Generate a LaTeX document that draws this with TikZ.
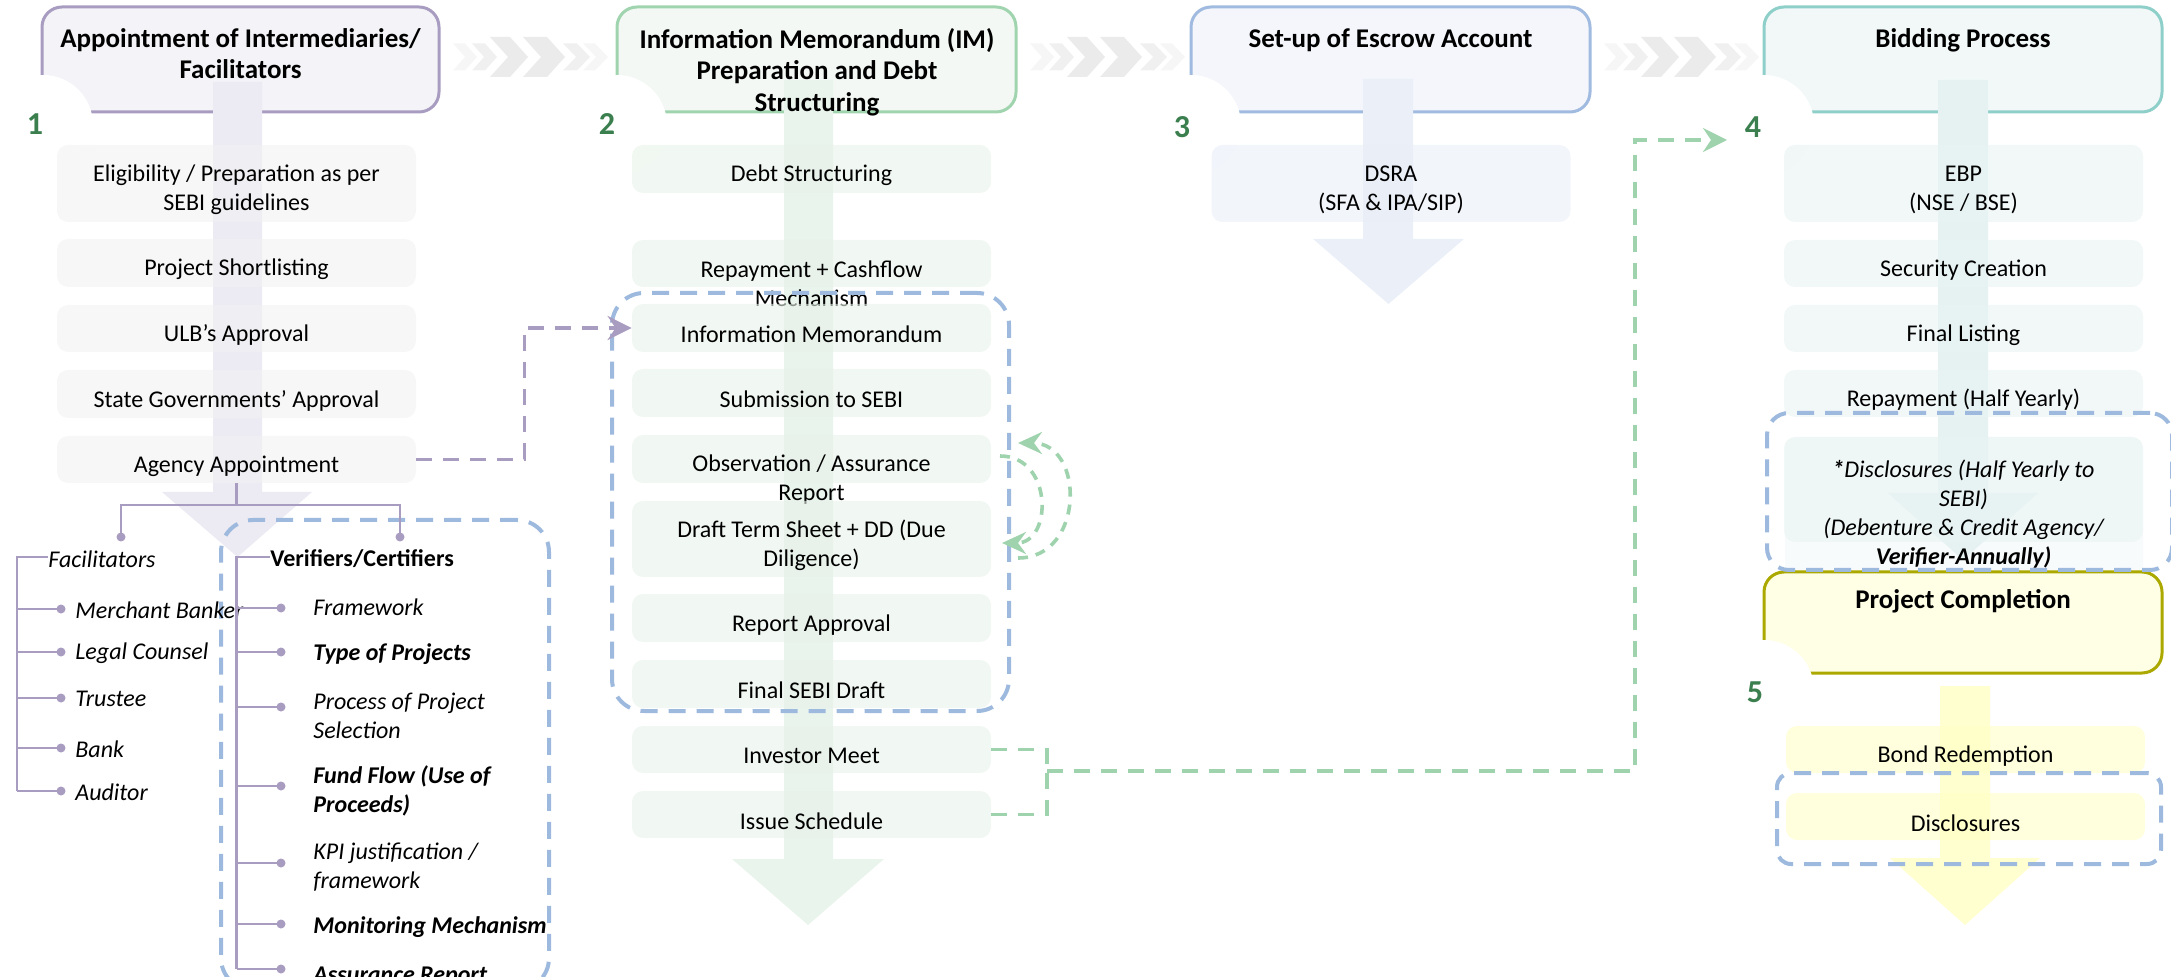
\documentclass[tikz,border=0pt]{standalone}
\usepackage{fontspec}
\setmainfont{Carlito}
\usetikzlibrary{arrows.meta}
\definecolor{purp}{HTML}{A89CC0}
\definecolor{hfillA}{HTML}{F4F3F8}
\definecolor{gbord}{HTML}{A0D4AE}
\definecolor{hfillB}{HTML}{F3F8F4}
\definecolor{bbord}{HTML}{A0BBDF}
\definecolor{hfillC}{HTML}{F4F6FB}
\definecolor{tbord}{HTML}{8ED0C9}
\definecolor{hfillD}{HTML}{F2F8F8}
\definecolor{obord}{HTML}{ABA800}
\definecolor{hfillE}{HTML}{FFFFE6}
\definecolor{shA}{HTML}{ECEAF2}
\definecolor{shB}{HTML}{E9F4EC}
\definecolor{shC}{HTML}{EBF0F8}
\definecolor{shD}{HTML}{E5F2F1}
\definecolor{shE}{HTML}{FFFFD0}
\definecolor{itA}{HTML}{F2F2F2}
\definecolor{itB}{HTML}{E8F2E9}
\definecolor{itC}{HTML}{E9EEF7}
\definecolor{itD}{HTML}{E9F3F3}
\definecolor{itE}{HTML}{FFFFC6}
\definecolor{dblue}{HTML}{9DB9DE}
\definecolor{dgreen}{HTML}{9FD3AD}
\definecolor{numg}{HTML}{3B7F4F}
\definecolor{chA}{HTML}{EBEBEB}
\definecolor{chB}{HTML}{F0F0F0}
\definecolor{chC}{HTML}{F6F6F6}
\newcommand\bodyfont{\fontsize{12pt}{14.5pt}\selectfont}
\newcommand\mychev[5]{\fill[#5] (#1,57-#4) -- ++(#2,0) -- ++(#3,#4) -- ++(-#3,#4) -- ++(-#2,0) -- ++(#3,-#4) -- cycle;}
\newcommand\chevset[1]{%
  \mychev{#1+14}{12}{12}{13.5}{chC}
  \mychev{#1+33}{13}{12}{13.5}{chB}
  \mychev{#1+51}{20}{18}{20}{chA}
  \mychev{#1+84}{24}{18}{20}{chA}
  \mychev{#1+124}{14}{13}{13.5}{chB}
  \mychev{#1+144}{12}{13}{13.5}{chC}}
\newcommand\myshaft[8]{\fill[#8] (#1,#3) -- (#2,#3) -- (#2,#4) -- (#6,#4) -- (#7) -- (#5,#4) -- (#1,#4) -- cycle;}
\tikzset{
 hdr/.style={rounded corners=10pt, line width=1.5pt, inner sep=0pt},
 htxt/.style={anchor=north, align=center, inner sep=0pt, font=\fontsize{13.5pt}{15.75pt}\selectfont\bfseries},
 num/.style={text=numg, inner sep=0pt, font=\fontsize{16pt}{16pt}\selectfont\bfseries},
 wcirc/.style={circle, fill=white, inner sep=0pt, minimum size=50pt},
 it/.style={rounded corners=5.5pt, inner sep=0pt, minimum width=179.5pt, fill opacity=0.6},
 lt/.style={align=center, inner sep=0pt, yshift=-3.3pt, text opacity=1},
 dbox/.style={draw=dblue, line width=2pt, dash pattern=on 8.5pt off 5.5pt, inner sep=0pt},
 pcon/.style={draw=purp, line width=1.8pt, dash pattern=on 8pt off 5.5pt, -{Stealth[length=12pt,width=12pt,inset=4pt]}},
 gcon/.style={draw=dgreen, line width=1.8pt, dash pattern=on 8pt off 5.5pt},
 loopc/.style={draw=dgreen, line width=1.8pt, dash pattern=on 5pt off 4pt, -{Stealth[length=12pt,width=11pt,inset=4pt]}},
 tline/.style={draw=purp, line width=1.3pt},
 dot/.style={circle, fill=purp, inner sep=0pt, minimum size=4.5pt},
 tt/.style={anchor=west, inner sep=0pt, align=left},
}
\begin{document}
\begin{tikzpicture}[x=0.5pt,y=-0.5pt,font=\bodyfont]
\useasboundingbox (0,0) rectangle (2171,977);
% chevrons
\chevset{439}
\chevset{1016}
\chevset{1590}
% faint extension behind disclosures
\fill[itD, fill opacity=0.35, rounded corners=5.5pt] (1785,437) rectangle (2143,585);
% headers
\node[hdr, draw=purp, fill=hfillA, minimum width=198.5pt, minimum height=52.5pt] (h1) at (240.5,59.5) {};
\node[hdr, draw=gbord, fill=hfillB, minimum width=199.5pt, minimum height=52.5pt] (h2) at (816.5,59.5) {};
\node[hdr, draw=bbord, fill=hfillC, minimum width=199.5pt, minimum height=52.5pt] (h3) at (1390.5,59.5) {};
\node[hdr, draw=tbord, fill=hfillD, minimum width=199pt, minimum height=52.5pt] (h4) at (1963,59.5) {};
\node[hdr, draw=obord, fill=hfillE, minimum width=199pt, minimum height=50.5pt] (h5) at (1963,622.5) {};
% white circles and numbers
\node[wcirc] (w1) at (43,125) {};
\node[wcirc] (w2) at (617,125) {};
\node[wcirc] (w3) at (1191,125) {};
\node[wcirc] (w4) at (1764,125) {};
\node[wcirc] (w5) at (1764,690) {};
\node[num] (n1) at (35,124) {1};
\node[num] (n2) at (607,124) {2};
\node[num] (n3) at (1182,127) {3};
\node[num] (n4) at (1753,127) {4};
\node[num] (n5) at (1755,692) {5};
% shafts
\myshaft{213}{262}{82}{492}{162}{312}{237.5,557}{shA}
\myshaft{784}{833}{80}{859}{732}{884}{808,925}{shB}
\myshaft{1363}{1413}{79}{239}{1313}{1464}{1388.5,304}{shC}
\myshaft{1938}{1988}{80}{493}{1888}{2038}{1963,560}{shD}
\myshaft{1940}{1990}{686}{858}{1890}{2040}{1965,925}{shE}
% header texts
\node[htxt] (h1t) at (240.5,28) {Appointment of Intermediaries/\\Facilitators};
\node[htxt] (h2t) at (817,28) {Information Memorandum (IM)\\Preparation and Debt\\Structuring};
\node[htxt] (h3t) at (1390.5,28) {Set-up of Escrow Account};
\node[htxt] (h4t) at (1963,28) {Bidding Process};
\node[htxt] (h5t) at (1963,589) {Project Completion};
% column 1 items
\node[it, fill=itA, minimum height=38.5pt, label={[lt]center:{Eligibility / Preparation as per\\SEBI guidelines}}] (a1) at (236.5,183.5) {};
\node[it, fill=itA, minimum height=24pt, label={[lt]center:{Project Shortlisting}}] (a2) at (236.5,263) {};
\node[it, fill=itA, minimum height=23.5pt, label={[lt]center:{ULB’s Approval}}] (a3) at (236.5,328.5) {};
\node[it, fill=itA, minimum height=24pt, label={[lt]center:{State Governments’ Approval}}] (a4) at (236.5,394) {};
\node[it, fill=itA, minimum height=23.5pt, label={[lt]center:{Agency Appointment}}] (a5) at (236.5,459.5) {};
% column 2 items
\node[it, fill=itB, minimum height=24pt, label={[lt]center:{Debt Structuring}}] (b1) at (811.5,169) {};
\node[it, fill=itB, minimum height=23.5pt, label={[lt,yshift=-6.7pt]center:{Repayment + Cashflow\\Mechanism}}] (b2) at (811.5,263.5) {};
\node[it, fill=itB, minimum height=24pt, label={[lt]center:{Information Memorandum}}] (b3) at (811.5,328) {};
\node[it, fill=itB, minimum height=24pt, label={[lt]center:{Submission to SEBI}}] (b4) at (811.5,393) {};
\node[it, fill=itB, minimum height=24pt, label={[lt,yshift=-7pt]center:{Observation / Assurance\\Report}}] (b5) at (811.5,459) {};
\node[it, fill=itB, minimum height=38pt, label={[lt]center:{Draft Term Sheet + DD (Due\\Diligence)}}] (b6) at (811.5,539) {};
\node[it, fill=itB, minimum height=24pt, label={[lt]center:{Report Approval}}] (b7) at (811.5,618) {};
\node[it, fill=itB, minimum height=24pt, label={[lt]center:{Final SEBI Draft}}] (b8) at (811.5,684) {};
\node[it, fill=itB, minimum height=23.5pt, label={[lt]center:{Investor Meet}}] (b9) at (811.5,749.5) {};
\node[it, fill=itB, minimum height=23.5pt, label={[lt]center:{Issue Schedule}}] (b10) at (811.5,814.5) {};
% column 3
\node[it, fill=itC, minimum height=38.5pt, label={[lt]center:{DSRA\\(SFA \& IPA/SIP)}}] (c1) at (1391,183.5) {};
% column 4
\node[it, fill=itD, minimum height=38.5pt, label={[lt]center:{EBP\\(NSE / BSE)}}] (d1) at (1963.5,183.5) {};
\node[it, fill=itD, minimum height=23.5pt, label={[lt]center:{Security Creation}}] (d2) at (1963.5,263.5) {};
\node[it, fill=itD, minimum height=23.5pt, label={[lt]center:{Final Listing}}] (d3) at (1963.5,328.5) {};
\node[it, fill=itD, minimum height=23.5pt, label={[lt]center:{Repayment (Half Yearly)}}] (d4) at (1963.5,393.5) {};
\node[it, fill=itD, minimum height=52.5pt, label={[lt,yshift=-8.8pt,font=\bodyfont\itshape]center:{{\bfseries *}Disclosures (Half Yearly to\\SEBI)\\(Debenture \& Credit Agency/\\{\bfseries Verifier-Annually)}}}] (d5) at (1963.5,489.5) {};
% column 5
\node[it, fill=itE, minimum height=23.5pt, label={[lt]center:{Bond Redemption}}] (e1) at (1965.5,749.5) {};
\node[it, fill=itE, minimum height=23.5pt, label={[lt]center:{Disclosures}}] (e2) at (1965.5,816.5) {};
% dashed groups
\node[dbox, rounded corners=16pt, minimum width=164pt, minimum height=235pt] (vbox) at (385,755) {};
\node[dbox, rounded corners=16pt, minimum width=198.5pt, minimum height=209pt] (imbox) at (810.5,502) {};
\node[dbox, rounded corners=11pt, minimum width=202.5pt, minimum height=78.5pt] (dbox4) at (1969.5,491.5) {};
\node[dbox, rounded corners=7pt, minimum width=192pt, minimum height=45.5pt] (dbox5) at (1969,818.5) {};
% purple connector
\draw[pcon] (a5.east) -- ++(108,0) |- (b3.west);
% green connectors
\coordinate (gj) at (1047,771);
\coordinate (g4) at (1727,140);
\draw[gcon] (b9.east) -| (gj);
\draw[gcon] (b10.east) -| (gj);
\draw[gcon, -{Stealth[length=12pt,width=12pt,inset=4pt]}] (gj) -| ([xshift=-46pt]g4) -- (g4);
% loop arrows
\coordinate (lo1) at (1018,558);
\coordinate (lo2) at (1018,443);
\coordinate (li1) at (1000,456);
\coordinate (li2) at (1002,543);
\draw[loopc] (lo1) .. controls (1085,558) and (1085,443) .. (lo2);
\draw[loopc] (li1) .. controls (1053,456) and (1053,543) .. (li2);
% tree
\coordinate (tj) at (236.5,505);
\node[dot] (fdot) at (121,537) {};
\node[dot] (vdot) at (400,537) {};
\draw[tline] (a5.south) -- (tj);
\draw[tline] (fdot.center) |- (tj) -| (vdot.center);
\node[tt, font=\bodyfont\itshape] (fac) at (48,559) {Facilitators};
\coordinate (ftop) at (17,557);
\coordinate (fbot) at (17,791);
\draw[tline] (fac.west |- ftop) -- (ftop) -- (fbot);
\foreach \i/\y/\t in {1/609/Merchant Banker,2/652/Legal Counsel,3/698/Trustee,4/748/Bank,5/791/Auditor}{
  \coordinate (fb\i) at (17,\y);
  \node[dot] (fd\i) at (61,\y) {};
  \draw[tline] (fb\i) -- (fd\i.center);
  \node[tt, font=\bodyfont\itshape] (ft\i) at (75,\y+1) {\t};
}
\node[tt, font=\bodyfont\bfseries] (ver) at (270,559) {Verifiers/Certifiers};
\coordinate (vtop) at (236.5,557);
\coordinate (vbot) at (236.5,969);
\draw[tline] (ver.west |- vtop) -- (vtop) -- (vbot);
\foreach \i/\y in {1/608,2/652,3/707,4/786,5/863,6/924,7/969}{
  \coordinate (vb\i) at (236.5,\y);
  \node[dot] (vd\i) at (281,\y) {};
  \draw[tline] (vb\i) -- (vd\i.center);
}
\node[tt, font=\bodyfont\itshape] (vt1) at (313,607) {Framework};
\node[tt, font=\bodyfont\bfseries\itshape] (vt2) at (313,654) {Type of Projects};
\node[tt, font=\bodyfont\itshape] (vt3) at (313,716) {Process of Project\\Selection};
\node[tt, font=\bodyfont\bfseries\itshape] (vt4) at (313,791) {Fund Flow (Use of\\Proceeds)};
\node[tt, font=\bodyfont\itshape] (vt5) at (313,867) {KPI justification /\\framework};
\node[tt, font=\bodyfont\bfseries\itshape] (vt6) at (313,927) {Monitoring Mechanism};
\node[tt, font=\bodyfont\bfseries\itshape] (vt7) at (313,977) {Assurance Report};
\end{tikzpicture}
\end{document}
